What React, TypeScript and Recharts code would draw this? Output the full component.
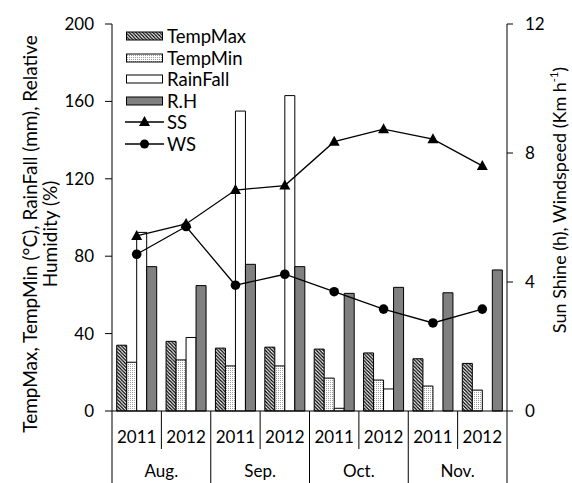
import React from 'react';
import { ComposedChart, Bar, Line, XAxis, YAxis } from 'recharts';

const months = ['Aug.', 'Sep.', 'Oct.', 'Nov.'];
const years = ['2011', '2012'];
const tempMax = [34, 36, 32.5, 33, 32, 30, 27, 24.6];
const tempMin = [25.2, 26.4, 23.3, 23.3, 17, 16, 12.9, 10.8];
const rainFall = [92.3, 38, 155, 163, 1.4, 11.4, 0, 0];
const relHum = [74.6, 64.8, 75.8, 74.6, 60.8, 63.9, 61.1, 72.9];
const sunShine = [5.43, 5.8, 6.85, 6.99, 8.35, 8.74, 8.43, 7.6];
const windSpeed = [4.86, 5.72, 3.9, 4.24, 3.7, 3.16, 2.73, 3.16];
const leftTicks = [0, 40, 80, 120, 160, 200];
const rightTicks = [0, 4, 8, 12];

const W = 572;
const H = 483;
const LEFT_W = 112;
const RIGHT_W = 65;
const TOP = 24;
const X_H = 72;
const PLOT_W = W - LEFT_W - RIGHT_W;

const data = months.flatMap((m, mi) =>
  years.map((y, yi) => {
    const i = mi * 2 + yi;
    return {
      key: `${m}-${y}`,
      month: m,
      year: y,
      tempMax: tempMax[i],
      tempMin: tempMin[i],
      rainFall: rainFall[i],
      relHum: relHum[i],
      sunShine: sunShine[i],
      windSpeed: windSpeed[i],
    };
  })
);

const FONT = 'Lato, "Open Sans", sans-serif';

const renderTick = (props: any) => {
  const { x, y, payload } = props;
  const i = payload.index;
  const band = PLOT_W / data.length;
  const left = x - band / 2;
  const right = x + band / 2;
  const monthEnd = i % 2 === 1;
  const d = data[i];
  return (
    <g>
      {i === 0 && <line x1={left} x2={left} y1={y} y2={H} stroke="#000" strokeWidth={1} />}
      <line x1={right} x2={right} y1={y} y2={monthEnd ? H : y + 38} stroke="#000" strokeWidth={1} />
      <text x={x} y={y + 32} textAnchor="middle" fontSize={17} fill="#000">{d.year}</text>
      {monthEnd && (
        <text x={left} y={y + 66} textAnchor="middle" fontSize={17} fill="#000">{d.month}</text>
      )}
    </g>
  );
};

const LeftTitle = () => {
  const cy = 234;
  return (
    <g>
      <text x={29} y={cy} transform={`rotate(-90, 29, ${cy})`} textAnchor="middle" dominantBaseline="central" fontSize={19} fill="#000">
        TempMax, TempMin (°C), RainFall (mm), Relative
      </text>
      <text x={49} y={cy} transform={`rotate(-90, 49, ${cy})`} textAnchor="middle" dominantBaseline="central" fontSize={19} fill="#000">
        Humidity (%)
      </text>
    </g>
  );
};

const RightTitle = () => {
  const cx = 559;
  const cy = 200;
  return (
    <text x={cx} y={cy} transform={`rotate(-90, ${cx}, ${cy})`} textAnchor="middle" dominantBaseline="central" fontSize={18} fill="#000">
      Sun Shine (h), Windspeed (Km h<tspan fontSize={11} dy={-6}>-1</tspan><tspan dy={6}>)</tspan>
    </text>
  );
};

const Triangle = (props: any) => {
  const { cx, cy, index } = props;
  if (cx == null || cy == null) return <g key={`t-${index}`} />;
  return <polygon key={`t-${index}`} points={`${cx},${cy - 6} ${cx + 5.5},${cy + 4} ${cx - 5.5},${cy + 4}`} fill="#000" />;
};

const Circle = (props: any) => {
  const { cx, cy, index } = props;
  if (cx == null || cy == null) return <g key={`c-${index}`} />;
  return <circle key={`c-${index}`} cx={cx} cy={cy} r={4.8} fill="#000" />;
};

const legendItems = [
  { name: 'TempMax', kind: 'bar', fill: 'url(#hatch)' },
  { name: 'TempMin', kind: 'bar', fill: 'url(#dots)' },
  { name: 'RainFall', kind: 'bar', fill: '#fff' },
  { name: 'R.H', kind: 'bar', fill: '#808080' },
  { name: 'SS', kind: 'tri', fill: '#000' },
  { name: 'WS', kind: 'dot', fill: '#000' },
];

const LegendBox = () => (
  <div style={{ position: 'absolute', left: 125, top: 25 }}>
    {legendItems.map((it, i) => (
      <div key={it.name} style={{ position: 'absolute', top: i * 21.6, left: 0, height: 22, display: 'flex', alignItems: 'center', whiteSpace: 'nowrap' }}>
        <svg width={40} height={22} style={{ display: 'block' }}>
          {it.kind === 'bar' && <rect x={1.5} y={7} width={36} height={8} fill={it.fill} stroke="#000" strokeWidth={1} />}
          {it.kind !== 'bar' && <line x1={0} x2={39} y1={11} y2={11} stroke="#000" strokeWidth={1.3} />}
          {it.kind === 'tri' && <polygon points="19.5,5 25,15 14,15" fill="#000" />}
          {it.kind === 'dot' && <circle cx={19.5} cy={11} r={4.5} fill="#000" />}
        </svg>
        <span style={{ fontSize: 18.5, marginLeft: 2, color: '#000', lineHeight: '22px' }}>{it.name}</span>
      </div>
    ))}
  </div>
);

export default function App() {
  return (
    <div style={{ position: 'absolute', left: 0, top: 0, width: W, height: H, background: '#fff', fontFamily: FONT }}>
      <svg width={0} height={0} style={{ position: 'absolute' }}>
        <defs>
          <pattern id="hatch" patternUnits="userSpaceOnUse" width={3.4} height={3.4}>
            <rect width={3.4} height={3.4} fill="#fff" />
            <path d="M-1,-1 L4.4,4.4 M-1,2.4 L1,4.4 M2.4,-1 L4.4,1" stroke="#000" strokeWidth={1.3} />
          </pattern>
          <pattern id="dots" patternUnits="userSpaceOnUse" width={2} height={2}>
            <rect width={2} height={2} fill="#fff" />
            <rect width={1} height={1} fill="#a0a0a0" />
          </pattern>
        </defs>
      </svg>
      <ComposedChart
        width={W}
        height={H}
        data={data}
        margin={{ top: TOP, right: 0, bottom: 0, left: 0 }}
        barCategoryGap="9.5%"
        barGap={0}
      >
        <XAxis
          dataKey="key"
          height={X_H}
          interval={0}
          tickLine={false}
          tickSize={0}
          tickMargin={0}
          axisLine={{ stroke: '#000', strokeWidth: 1 }}
          tick={renderTick}
        />
        <YAxis
          yAxisId="left"
          width={LEFT_W}
          domain={[0, 200]}
          ticks={leftTicks}
          interval={0}
          tickSize={7}
          tickMargin={11}
          axisLine={{ stroke: '#000', strokeWidth: 1 }}
          tickLine={{ stroke: '#000', strokeWidth: 1 }}
          tick={{ fill: '#000', fontSize: 17 }}
          label={<LeftTitle />}
        />
        <YAxis
          yAxisId="right"
          orientation="right"
          width={RIGHT_W}
          domain={[0, 12]}
          ticks={rightTicks}
          interval={0}
          tickSize={6}
          tickMargin={12}
          axisLine={{ stroke: '#000', strokeWidth: 1 }}
          tickLine={{ stroke: '#000', strokeWidth: 1 }}
          tick={{ fill: '#000', fontSize: 17, textAnchor: 'start' }}
          label={<RightTitle />}
        />
        <Bar yAxisId="left" dataKey="tempMax" name="TempMax" fill="url(#hatch)" stroke="#000" strokeWidth={1} isAnimationActive={false} />
        <Bar yAxisId="left" dataKey="tempMin" name="TempMin" fill="url(#dots)" stroke="#000" strokeWidth={1} isAnimationActive={false} />
        <Bar yAxisId="left" dataKey="rainFall" name="RainFall" fill="#fff" stroke="#000" strokeWidth={1} isAnimationActive={false} />
        <Bar yAxisId="left" dataKey="relHum" name="R.H" fill="#808080" stroke="#000" strokeWidth={1} isAnimationActive={false} />
        <Line yAxisId="right" type="linear" dataKey="sunShine" name="SS" stroke="#000" strokeWidth={1.3} dot={Triangle} activeDot={false} isAnimationActive={false} />
        <Line yAxisId="right" type="linear" dataKey="windSpeed" name="WS" stroke="#000" strokeWidth={1.3} dot={Circle} activeDot={false} isAnimationActive={false} />
      </ComposedChart>
      <LegendBox />
    </div>
  );
}
